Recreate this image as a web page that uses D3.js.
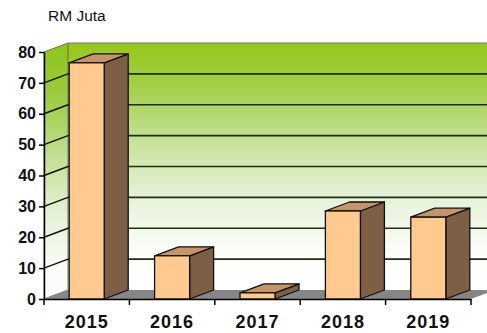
<!DOCTYPE html>
<html><head><meta charset="utf-8">
<script src="https://cdn.jsdelivr.net/npm/d3@7"></script>
<style>body{margin:0;background:#fff}svg{display:block}</style>
</head><body>
<script>
const years = ["2015","2016","2017","2018","2019"];
const values = [76.5, 14, 2, 28.5, 26.5];
const yTicks = [0,10,20,30,40,50,60,70,80];
const unitLabel = "RM Juta";

const W = 487, H = 333;
const svg = d3.select("body").append("svg").attr("width", W).attr("height", H);
const x = d3.scaleBand().domain(years).range([44, 471]).paddingInner(0.59).paddingOuter(0.295);
const y = d3.scaleLinear().domain([0, 80]).range([299, 52]);
const DX = 24, DY = -9;

const defs = svg.append("defs");
const g1 = defs.append("linearGradient").attr("id","wall").attr("x1",0).attr("y1",0).attr("x2",0).attr("y2",1);
[[0,"#97c81a"],[0.18,"#a3cf4a"],[0.4,"#c6e29a"],[0.62,"#e6f2d8"],[0.85,"#fcfdfb"],[1,"#ffffff"]].forEach(([o,c])=>g1.append("stop").attr("offset",o).attr("stop-color",c));
const g2 = defs.append("linearGradient").attr("id","side").attr("x1",0).attr("y1",0).attr("x2",0).attr("y2",1);
[[0,"#8fc41a"],[0.2,"#9ccb3e"],[0.42,"#bfdd8c"],[0.65,"#e2f0d2"],[0.88,"#fafcf8"],[1,"#ffffff"]].forEach(([o,c])=>g2.append("stop").attr("offset",o).attr("stop-color",c));

const x0 = x.range()[0], x1 = x.range()[1];
const yTop = y(80), yBot = y(0);
svg.append("rect").attr("x", x0+DX).attr("y", yTop+DY).attr("width", W-(x0+DX)+30).attr("height", yBot-yTop)
  .attr("fill","url(#wall)");
svg.append("path").attr("d", `M${x0},${yTop}L${x0+DX},${yTop+DY}L${x0+DX},${yBot+DY}L${x0},${yBot}Z`).attr("fill","url(#side)")
  .attr("stroke","#555").attr("stroke-width",0.8);
svg.append("line").attr("x1",x0+DX).attr("x2",W).attr("y1",yTop+DY).attr("y2",yTop+DY).attr("stroke","#777").attr("stroke-width",1.2);
yTicks.filter(t=>t>0 && t<80).forEach(t=>{
  svg.append("line").attr("x1",x0+DX).attr("x2",W).attr("y1",y(t)+DY).attr("y2",y(t)+DY).attr("stroke","#1f2d10").attr("stroke-width",1.6);
  svg.append("line").attr("x1",x0).attr("x2",x0+DX).attr("y1",y(t)).attr("y2",y(t)+DY).attr("stroke","#111").attr("stroke-width",1.4);
});
svg.append("path").attr("d", `M${x0},${yBot}L${x1},${yBot}L${x1+DX},${yBot+DY}L${x0+DX},${yBot+DY}Z`).attr("fill","#868686");

const bars = svg.append("g").selectAll("g").data(years.map((yr,i)=>({yr, v: values[i]}))).join("g");
bars.each(function(d){
  const g = d3.select(this);
  const bx = x(d.yr), bw = x.bandwidth(), ty = y(d.v), by = y(0);
  g.append("path").attr("d", `M${bx+bw},${by}L${bx+bw+DX},${by+DY}L${bx+bw+DX},${ty+DY}L${bx+bw},${ty}Z`)
    .attr("fill","#7d5f45").attr("stroke","#111").attr("stroke-width",1.3).attr("stroke-linejoin","round");
  g.append("path").attr("d", `M${bx},${ty}L${bx+DX},${ty+DY}L${bx+bw+DX},${ty+DY}L${bx+bw},${ty}Z`)
    .attr("fill","#c4946a").attr("stroke","#111").attr("stroke-width",1.3).attr("stroke-linejoin","round");
  g.append("rect").attr("x",bx).attr("y",ty).attr("width",bw).attr("height",by-ty)
    .attr("fill","#ffc990").attr("stroke","#111").attr("stroke-width",1.3);
});

const yAxis = svg.append("g").attr("transform",`translate(${x0},0)`)
  .call(d3.axisLeft(y).tickValues(yTicks).tickSize(5).tickSizeOuter(0).tickPadding(3));
yAxis.select(".domain").attr("stroke","#000").attr("stroke-width",1.5);
yAxis.selectAll(".tick line").attr("stroke","#000").attr("stroke-width",1.5);
yAxis.selectAll("text").attr("font-family","Liberation Sans, Arial, sans-serif").attr("font-size",16).attr("font-weight","bold").attr("fill","#111");

const xAxis = svg.append("g").attr("transform",`translate(0,${yBot})`)
  .call(d3.axisBottom(x).tickSize(0).tickPadding(16));
xAxis.select(".domain").attr("stroke","#000").attr("stroke-width",1.5);
xAxis.selectAll("text").attr("font-family","Liberation Sans, Arial, sans-serif").attr("font-size",18).attr("font-weight","bold").attr("fill","#111")
  .attr("letter-spacing", 1);
const step = x.step();
d3.range(years.length+1).forEach(i=>{
  const xp = x0 + i*step;
  svg.append("line").attr("x1",xp).attr("x2",xp).attr("y1",yBot).attr("y2",yBot+6).attr("stroke","#000").attr("stroke-width",1.5);
});

svg.append("text").attr("x",48).attr("y",21).text(unitLabel)
  .attr("font-family","Liberation Sans, Arial, sans-serif").attr("font-size",15.5).attr("fill","#111");
</script>
</body></html>
